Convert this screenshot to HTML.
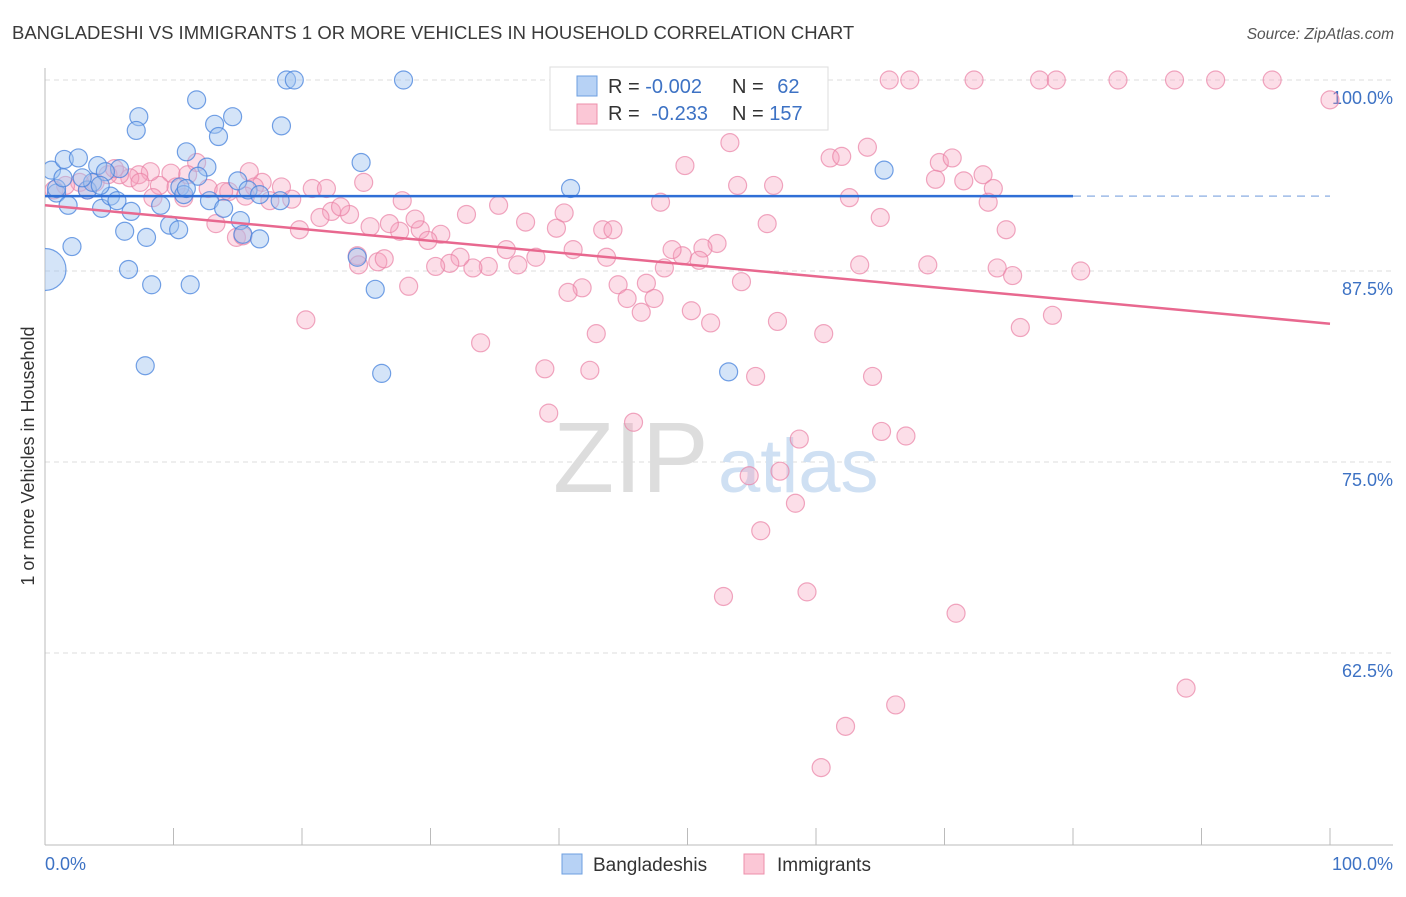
<!DOCTYPE html>
<html><head><meta charset="utf-8"><style>
body{margin:0;background:#fff;font-family:"Liberation Sans",sans-serif}
svg text{font-family:"Liberation Sans",sans-serif}
</style></head><body>
<svg id="chart" width="1406" height="892" xmlns="http://www.w3.org/2000/svg">
<defs><clipPath id="plotclip"><rect x="45" y="0" width="1361" height="845"/></clipPath></defs>
<text x="12" y="39" font-size="18.5" fill="#3a3a3a">BANGLADESHI VS IMMIGRANTS 1 OR MORE VEHICLES IN HOUSEHOLD CORRELATION CHART</text>
<text x="1394" y="39" font-size="15.5" fill="#555" text-anchor="end" font-style="italic">Source: ZipAtlas.com</text>
<g id="grid"></g>
<text x="553" y="492" font-size="100" fill="#ddd" font-family="Liberation Serif">ZIP</text>
<text x="718" y="492" font-size="76" fill="#cfe0f3">atlas</text>
<g id="axes"></g>
<g id="pinkpts" clip-path="url(#plotclip)"></g>
<g id="bluepts" clip-path="url(#plotclip)"></g>
<g id="lines"></g>
<text transform="translate(34,456) rotate(-90)" font-size="18" fill="#333" text-anchor="middle">1 or more Vehicles in Household</text>
<text x="45" y="870" font-size="18" fill="#3d72c4">0.0%</text>
<text x="1393" y="870" font-size="18" fill="#3d72c4" text-anchor="end">100.0%</text>
<g>
<rect x="550" y="67" width="278" height="63" fill="#fff" stroke="#ddd"/>
<rect x="577" y="76" width="20" height="20" fill="#b7d2f5" stroke="#6d9fe0"/>
<rect x="577" y="104" width="20" height="20" fill="#fbc7d6" stroke="#ec8fab"/>
<text x="608" y="93" font-size="20" fill="#333">R = <tspan fill="#3d72c4">-0.002</tspan></text>
<text x="732" y="93" font-size="20" fill="#333">N = <tspan fill="#3d72c4" dx="8">62</tspan></text>
<text x="608" y="120" font-size="20" fill="#333">R = <tspan fill="#3d72c4" dx="6">-0.233</tspan></text>
<text x="732" y="120" font-size="20" fill="#333">N = <tspan fill="#3d72c4">157</tspan></text>
</g>
<g>
<rect x="562" y="854" width="20" height="20" fill="#b7d2f5" stroke="#6d9fe0"/>
<text x="593" y="871" font-size="19" fill="#333">Bangladeshis</text>
<rect x="744" y="854" width="20" height="20" fill="#fbc7d6" stroke="#ec8fab"/>
<text x="777" y="871" font-size="19" fill="#333">Immigrants</text>
</g>
</svg>
<script>
const yTicks=[100,87.5,75,62.5];
const yTickLabels=["100.0%","87.5%","75.0%","62.5%"];
const xTicks=[0,10,20,30,40,50,60,70,80,90,100];
const blueX=[0.5,1.5,2.6,4.1,5.8,0.9,1.8,3.3,3.7,4.4,5.1,5.6,6.7,6.2,7.9,6.5,8.3,7.8,7.3,7.1,11.8,11.0,13.2,13.5,14.6,12.6,11.9,10.5,10.8,9.7,10.4,9.0,11.3,12.8,13.9,15.2,15.4,16.7,15.0,15.8,16.7,18.4,18.8,19.4,27.9,24.6,18.3,24.3,25.7,26.2,40.9,53.2,65.3,57.8,0,2.1,0.9,2.9,4.7,11.0,4.3,1.4];
const blueY=[94.1,94.8,94.9,94.4,94.2,92.6,91.8,92.8,93.3,91.6,92.4,92.1,91.4,90.1,89.7,87.6,86.6,81.3,97.6,96.7,98.7,95.3,97.1,96.3,97.6,94.3,93.7,93.0,92.5,90.5,90.2,91.8,86.6,92.1,91.6,90.8,89.9,89.6,93.4,92.8,92.5,97.0,100,100,100,94.6,92.1,88.4,86.3,80.8,92.9,80.9,94.1,100,87.6,89.1,92.9,93.6,94.0,92.9,93.1,93.6];
const pinkX=[65.7,67.3,72.3,77.4,78.7,83.5,87.9,91.1,95.5,100,53.3,49.8,61.1,62.0,64.0,69.6,70.6,73.0,69.3,71.5,73.8,73.4,53.9,56.7,62.6,47.9,65.0,56.2,74.8,35.3,32.8,40.4,37.4,39.8,43.4,44.2,52.3,51.2,49.6,50.9,48.8,41.1,43.7,35.9,38.2,36.8,34.5,33.3,32.3,31.5,30.4,48.2,63.4,68.7,74.1,75.3,80.6,54.2,44.6,46.8,41.8,40.7,45.3,47.4,46.4,50.3,51.8,57.0,60.6,75.9,78.4,42.9,33.9,20.3,38.9,42.4,55.3,64.4,39.2,45.8,58.7,65.1,67.0,54.8,57.2,58.4,55.7,52.8,59.3,70.9,88.8,66.2,62.3,60.4,28.3,25.9,26.4,24.3,27.6,29.2,30.8,29.8,28.8,26.8,25.3,23.7,22.3,23.0,21.4,19.8,24.8,27.8,20.8,21.9,18.4,19.2,17.5,16.9,15.9,16.3,14.9,13.3,14.3,12.7,11.8,11.1,10.8,9.8,8.9,8.2,7.3,6.6,5.8,4.9,3.9,2.7,1.6,0.7,5.4,13.9,15.6,8.4,10.2,7.4,3.3,15.4,24.4];
const pinkY=[100,100,100,100,100,100,100,100,100,98.7,95.9,94.4,94.9,95.0,95.6,94.6,94.9,93.8,93.5,93.4,92.9,92.0,93.1,93.1,92.3,92.0,91.0,90.6,90.2,91.8,91.2,91.3,90.7,90.3,90.2,90.2,89.3,89.0,88.5,88.2,88.9,88.9,88.4,88.9,88.4,87.9,87.8,87.7,88.4,88.0,87.8,87.7,87.9,87.9,87.7,87.2,87.5,86.8,86.6,86.7,86.4,86.1,85.7,85.7,84.8,84.9,84.1,84.2,83.4,83.8,84.6,83.4,82.8,84.3,81.1,81.0,80.6,80.6,78.2,77.6,76.5,77.0,76.7,74.1,74.4,72.3,70.5,66.2,66.5,65.1,60.2,59.1,57.7,55.0,86.5,88.1,88.3,88.5,90.1,90.2,89.9,89.5,90.9,90.6,90.4,91.2,91.4,91.7,91.0,90.2,93.3,92.1,92.9,92.9,93.0,92.2,92.1,93.3,94.0,93.0,89.7,90.6,92.7,92.9,94.6,93.8,92.3,93.9,93.1,94.0,93.8,93.6,93.8,93.8,93.3,93.3,93.1,92.8,94.2,92.7,92.4,92.3,93.0,93.3,92.8,89.8,87.9];
const blueTrend=[92.4,92.4];
const pinkTrend=[91.8,84.05];
const NS="http://www.w3.org/2000/svg";
const X=v=>45+v*12.85, Y=v=>80+(100-v)*15.28;
function mk(tag,parent,attrs){const e=document.createElementNS(NS,tag);for(const k in attrs)e.setAttribute(k,attrs[k]);document.getElementById(parent).appendChild(e);return e;}
yTicks.forEach((t,i)=>{
 const l=mk('line','grid',{x1:45,x2:1393,y1:Y(t),y2:Y(t),stroke:'#ddd','stroke-dasharray':'5,4'});
 
 
 const tx=mk('text','grid',{x:1393,y:Y(t)+24,'font-size':18,fill:'#3d72c4','text-anchor':'end'});
 tx.textContent=yTickLabels[i];
 
 
});
const ax=mk('line','axes',{x1:45,x2:45,y1:68,y2:845,stroke:'#bbb'});


const bx=mk('line','axes',{x1:45,x2:1393,y1:845,y2:845,stroke:'#bbb'});


xTicks.forEach(t=>{const l=mk('line','axes',{x1:X(t),x2:X(t),y1:828,y2:845,stroke:'#bbb'});
 
 });
pinkX.forEach((x,i)=>{const c=mk('circle','pinkpts',{cx:X(x),cy:Y(pinkY[i]),r:9,fill:'rgba(246,160,188,0.35)',stroke:'rgba(234,130,165,0.7)','stroke-width':1.2});
 
 });
blueX.forEach((x,i)=>{const big=(i===54);const c=mk('circle','bluepts',{cx:X(x),cy:Y(blueY[i]),r:big?21:9,fill:'rgba(160,196,240,0.45)',stroke:'rgba(70,130,220,0.75)','stroke-width':1.2});
 
 });
const b1=mk('line','lines',{x1:X(0),x2:X(80),y1:Y(blueTrend[0]),y2:Y(blueTrend[0]+(blueTrend[1]-blueTrend[0])*0.8),stroke:'#2f6fd6','stroke-width':2.5});


const b2=mk('line','lines',{x1:X(80),x2:X(100),y1:Y(blueTrend[0]+(blueTrend[1]-blueTrend[0])*0.8),y2:Y(blueTrend[1]),stroke:'#9dbbe8','stroke-width':1.5,'stroke-dasharray':'8,6'});


const p1=mk('line','lines',{x1:X(0),x2:X(100),y1:Y(pinkTrend[0]),y2:Y(pinkTrend[1]),stroke:'#e8688f','stroke-width':2.5});


</script>
</body></html>
